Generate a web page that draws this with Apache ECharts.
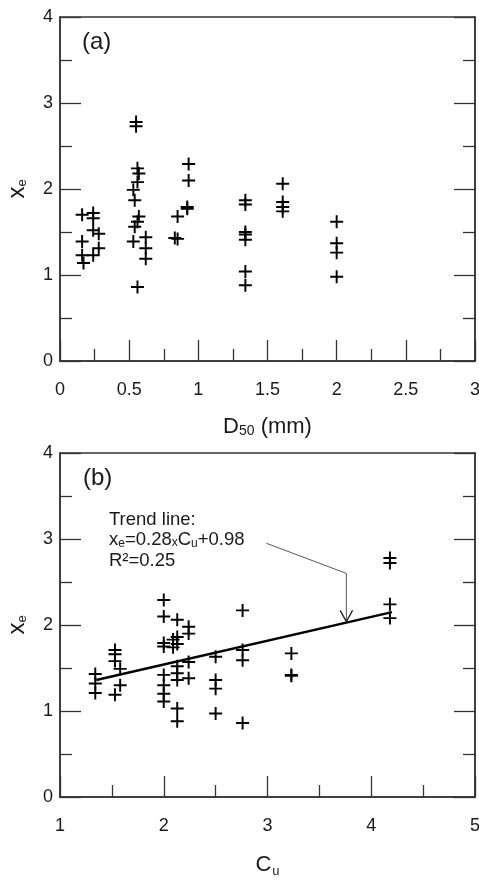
<!DOCTYPE html>
<html>
<head>
<meta charset="utf-8">
<script src="https://cdn.jsdelivr.net/npm/echarts@6/dist/echarts.min.js"></script>
<style>
html,body{margin:0;padding:0;background:#fff;}
#chart{width:479px;height:882px;}
</style>
</head>
<body>
<div id="chart"></div>
<script>
// Panel (a): D50 (mm) vs xe
var d50 = [0.16,0.24,0.24,0.16,0.16,0.17,0.24,0.28,0.28,0.24,
           0.55,0.55,0.56,0.57,0.56,0.53,0.54,0.57,0.56,0.54,0.53,0.62,0.62,0.62,0.56,
           0.85,0.83,0.85,0.93,0.93,0.92,0.92,
           1.34,1.34,1.34,1.34,1.34,1.34,1.34,
           1.61,1.61,1.61,1.61,
           2.0,2.0,2.0,2.0];
var xeA = [1.70,1.72,1.66,1.39,1.23,1.14,1.52,1.48,1.31,1.23,
           2.78,2.73,2.24,2.18,2.08,1.99,1.87,1.68,1.62,1.56,1.39,1.44,1.31,1.19,0.86,
           1.68,1.43,1.42,2.29,2.10,1.79,1.77,
           1.87,1.82,1.50,1.47,1.41,1.04,0.88,
           2.06,1.85,1.79,1.74,
           1.62,1.37,1.26,0.98];
// Panel (b): Cu vs xe
var cu = [1.34,1.34,1.34,
          1.53,1.53,1.53,1.53,1.58,1.58,
          2.0,2.0,2.0,2.0,2.0,2.0,2.0,2.0,
          2.09,2.09,
          2.13,2.13,2.13,2.13,2.13,2.13,2.13,2.13,
          2.24,2.24,2.24,2.24,
          2.5,2.5,2.5,2.5,
          2.76,2.76,2.76,2.76,
          3.23,3.23,3.23,
          4.18,4.18,4.18,4.18];
var xeB = [1.43,1.32,1.21,
           1.71,1.66,1.58,1.19,1.49,1.30,
           2.29,2.10,1.79,1.75,1.42,1.30,1.20,1.11,
           1.83,1.74,
           2.06,1.86,1.78,1.52,1.44,1.36,1.03,0.88,
           1.98,1.90,1.57,1.38,
           1.63,1.36,1.26,0.97,
           2.17,1.71,1.59,0.86,
           1.67,1.42,1.41,
           2.78,2.72,2.24,2.08];
// Trend line: endpoints
var trendCu = [1.35, 4.2];
var trendXe = [1.36, 2.15];
// Annotation arrow path (data units)
var arrowCu = [2.99, 3.76, 3.76];
var arrowXe = [2.95, 2.60, 2.04];
var arrowHeadCu = [3.70, 3.76, 3.82];
var arrowHeadXe = [2.17, 2.04, 2.17];

var FONT = 'Liberation Sans, Arial, sans-serif';
var AX = '#333';
var TXT = '#1a1a1a';
var PLUS = 'path://M5.1,0H6.9V5.1H12V6.9H6.9V12H5.1V6.9H0V5.1H5.1Z';

function zip(a, b) { return a.map(function (v, i) { return [v, b[i]]; }); }

function xAx(grid, min, max, interval, nameRich, nameText, nameGap) {
  return {
    type: 'value', gridIndex: grid, min: min, max: max, interval: interval,
    position: 'bottom',
    axisLine: { show: true, onZero: false, lineStyle: { color: AX, width: 1.5 } },
    axisTick: { show: true, inside: true, length: 21, lineStyle: { color: AX, width: 1.3 } },
    minorTick: { show: true, splitNumber: 2, length: 12, lineStyle: { color: AX, width: 1.3 } },
    splitLine: { show: false }, minorSplitLine: { show: false },
    axisLabel: { fontSize: 18, color: TXT, fontFamily: FONT, margin: 20 },
    name: nameText, nameLocation: 'middle', nameGap: nameGap,
    nameTextStyle: { fontFamily: FONT, color: TXT, rich: nameRich }
  };
}
function yAx(grid, pos, showLabel, nameText) {
  var o = {
    type: 'value', gridIndex: grid, min: 0, max: 4, interval: 1, position: pos,
    axisLine: { show: true, onZero: false, lineStyle: { color: AX, width: 1.5 } },
    axisTick: { show: true, inside: true, length: 21, lineStyle: { color: AX, width: 1.3 } },
    minorTick: { show: true, splitNumber: 2, length: 12, lineStyle: { color: AX, width: 1.3 } },
    splitLine: { show: false }, minorSplitLine: { show: false },
    axisLabel: { show: showLabel, fontSize: 18, color: TXT, fontFamily: FONT, margin: 7 }
  };
  if (nameText) {
    o.name = nameText; o.nameLocation = 'middle'; o.nameGap = 31;
    o.nameTextStyle = { fontFamily: FONT, color: TXT, rich: {
      m: { fontSize: 24, fontFamily: FONT, color: TXT, lineHeight: 24 },
      s: { fontSize: 13, fontFamily: FONT, color: TXT, lineHeight: 24, padding: [10, 0, 0, 0] }
    } };
  }
  return o;
}

var chart = echarts.init(document.getElementById('chart'), null, { renderer: 'canvas' });
var option = {
  animation: false,
  backgroundColor: '#fff',
  grid: [
    { left: 60, top: 17, width: 415, height: 344, show: true, borderColor: AX, borderWidth: 1.5,
      backgroundColor: 'transparent', containLabel: false, outerBoundsMode: 'none' },
    { left: 60, top: 453, width: 415, height: 344, show: true, borderColor: AX, borderWidth: 1.5,
      backgroundColor: 'transparent', containLabel: false, outerBoundsMode: 'none' }
  ],
  xAxis: [
    xAx(0, 0, 3, 0.5, {
      m: { fontSize: 22, fontFamily: FONT, color: TXT, lineHeight: 24 },
      s: { fontSize: 14, fontFamily: FONT, color: TXT, lineHeight: 24, padding: [8, 0, 0, 0] }
    }, '{m|D}{s|50}{m| (mm)}', 54),
    xAx(1, 1, 5, 1, {
      m: { fontSize: 22, fontFamily: FONT, color: TXT, lineHeight: 24 },
      s: { fontSize: 13, fontFamily: FONT, color: TXT, lineHeight: 24, padding: [13, 0, 0, 1] }
    }, '{m|C}{s|u}', 56)
  ],
  yAxis: [
    yAx(0, 'left', true, '{m|x}{s|e}'),
    yAx(0, 'right', false, null),
    yAx(1, 'left', true, '{m|x}{s|e}'),
    yAx(1, 'right', false, null)
  ],
  graphic: [
    { type: 'text', left: 82, top: 30, style: { text: '(a)', fontSize: 24, fontFamily: FONT, fill: TXT } },
    { type: 'text', left: 83, top: 466, style: { text: '(b)', fontSize: 24, fontFamily: FONT, fill: TXT } },
    { type: 'text', left: 109, top: 510, style: {
      text: '{a|Trend line:}\n{a|x}{s|e}{a|=0.28}{x|x}{a|C}{s|u}{a|+0.98}\n{a|R²=0.25}',
      fontFamily: FONT, fill: TXT,
      rich: {
        a: { fontSize: 18.5, fontFamily: FONT, fill: TXT, lineHeight: 20.5 },
        s: { fontSize: 12, fontFamily: FONT, fill: TXT, lineHeight: 20.5, padding: [7, 0, 0, 0] },
        x: { fontSize: 12, fontFamily: FONT, fill: TXT, lineHeight: 20.5, padding: [5, 0, 0, 0] }
      }
    } }
  ],
  series: [
    { type: 'scatter', xAxisIndex: 0, yAxisIndex: 0, data: zip(d50, xeA),
      symbol: PLUS, symbolSize: 13, itemStyle: { color: '#000', opacity: 1 } },
    { type: 'scatter', xAxisIndex: 1, yAxisIndex: 2, data: zip(cu, xeB),
      symbol: PLUS, symbolSize: 13, itemStyle: { color: '#000', opacity: 1 } },
    { type: 'line', xAxisIndex: 1, yAxisIndex: 2, data: zip(trendCu, trendXe),
      showSymbol: false, symbol: 'none', lineStyle: { color: '#000', width: 2.5 } },
    { type: 'line', xAxisIndex: 1, yAxisIndex: 2, data: zip(arrowCu, arrowXe),
      showSymbol: false, symbol: 'none', lineStyle: { color: '#555', width: 1 } },
    { type: 'line', xAxisIndex: 1, yAxisIndex: 2, data: zip(arrowHeadCu, arrowHeadXe),
      showSymbol: false, symbol: 'none', lineStyle: { color: '#222', width: 1.3 } }
  ]
};
chart.setOption(option);
</script>
</body>
</html>
